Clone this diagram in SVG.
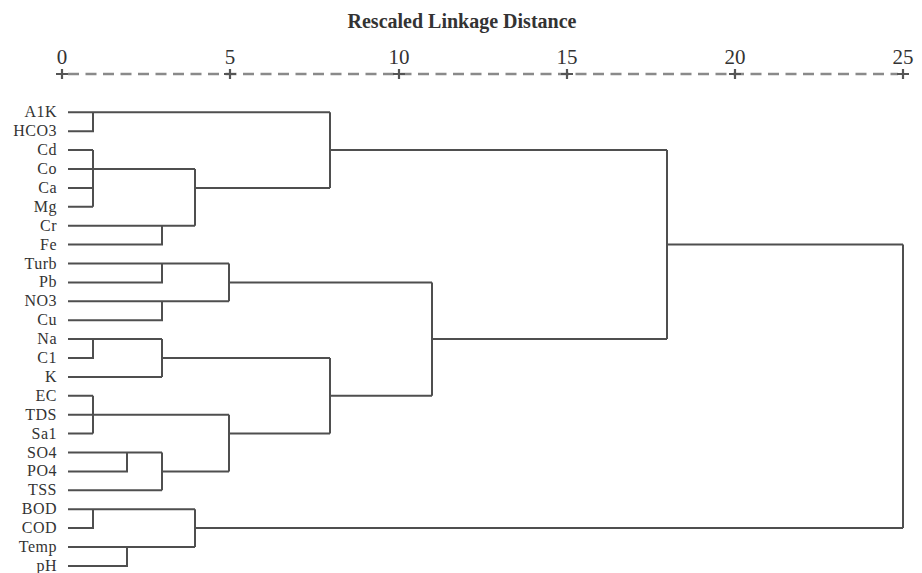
<svg xmlns="http://www.w3.org/2000/svg" width="922" height="573" viewBox="0 0 922 573">
<style>
.t{font-family:"Liberation Serif","Times New Roman",serif;fill:#333}
.title{font-size:20px;font-weight:bold;text-anchor:middle}
.num{font-size:21px;text-anchor:middle}
.lbl{font-size:16px;text-anchor:end;letter-spacing:0.5px}
.ln{fill:none;stroke:#4f4f4f;stroke-width:2}
.axis{stroke:#8a8a8a;stroke-width:2.5;stroke-dasharray:11 6.5;fill:none}
.tick{stroke:#555;stroke-width:2.2;fill:none}
</style>
<rect width="922" height="573" fill="#fff"/>
<g id="axis">
<text class="t title" x="462" y="28">Rescaled Linkage Distance</text>
<text class="t num" x="62" y="64">0</text>
<text class="t num" x="230" y="64">5</text>
<text class="t num" x="399" y="64">10</text>
<text class="t num" x="567" y="64">15</text>
<text class="t num" x="735" y="64">20</text>
<text class="t num" x="903" y="64">25</text>
<path class="axis" d="M68,74 H898"/>
<path class="tick" d="M56,74 H68 M62,69 V79 M224,74 H236 M230,69 V79 M393,74 H405 M399,69 V79 M561,74 H573 M567,69 V79 M729,74 H741 M735,69 V79 M897,74 H909 M903,69 V79"/>
</g>
<g id="n-A1K"><text class="t lbl" x="57" y="117.3">A1K</text></g>
<g id="n-HCO3"><text class="t lbl" x="57" y="136.2">HCO3</text></g>
<g id="n-Cd"><text class="t lbl" x="57" y="155.1">Cd</text></g>
<g id="n-Co"><text class="t lbl" x="57" y="174">Co</text></g>
<g id="n-Ca"><text class="t lbl" x="57" y="192.9">Ca</text></g>
<g id="n-Mg"><text class="t lbl" x="57" y="211.8">Mg</text></g>
<g id="n-Cr"><text class="t lbl" x="57" y="230.7">Cr</text></g>
<g id="n-Fe"><text class="t lbl" x="57" y="249.6">Fe</text></g>
<g id="n-Turb"><text class="t lbl" x="57" y="268.5">Turb</text></g>
<g id="n-Pb"><text class="t lbl" x="57" y="287.4">Pb</text></g>
<g id="n-NO3"><text class="t lbl" x="57" y="306.3">NO3</text></g>
<g id="n-Cu"><text class="t lbl" x="57" y="325.2">Cu</text></g>
<g id="n-Na"><text class="t lbl" x="57" y="344.1">Na</text></g>
<g id="n-C1"><text class="t lbl" x="57" y="363">C1</text></g>
<g id="n-K"><text class="t lbl" x="57" y="381.9">K</text></g>
<g id="n-EC"><text class="t lbl" x="57" y="400.8">EC</text></g>
<g id="n-TDS"><text class="t lbl" x="57" y="419.7">TDS</text></g>
<g id="n-Sa1"><text class="t lbl" x="57" y="438.6">Sa1</text></g>
<g id="n-SO4"><text class="t lbl" x="57" y="457.5">SO4</text></g>
<g id="n-PO4"><text class="t lbl" x="57" y="476.4">PO4</text></g>
<g id="n-TSS"><text class="t lbl" x="57" y="495.3">TSS</text></g>
<g id="n-BOD"><text class="t lbl" x="57" y="514.2">BOD</text></g>
<g id="n-COD"><text class="t lbl" x="57" y="533.1">COD</text></g>
<g id="n-Temp"><text class="t lbl" x="57" y="552">Temp</text></g>
<g id="n-pH"><text class="t lbl" x="57" y="570.9">pH</text></g>
<g id="connectors">
<path class="ln" d="M68,112.3 H330 M68,131.2 H93 V112.3"/>
<path class="ln" d="M68,150.1 H93 M68,187.9 H93 M68,206.8 H93 M93,150.1 V206.8 M68,169 H195"/>
<path class="ln" d="M68,225.7 H195 M68,244.6 H162 V225.7"/>
<path class="ln" d="M195,169 V225.7 M195,187.9 H330"/>
<path class="ln" d="M330,112.3 V187.9 M330,150.1 H667"/>
<path class="ln" d="M68,263.5 H229 M68,282.4 H162 V263.5"/>
<path class="ln" d="M68,301.3 H229 M68,320.2 H162 V301.3"/>
<path class="ln" d="M229,263.5 V301.3 M229,282.4 H432"/>
<path class="ln" d="M68,339.1 H162 M68,358 H93 V339.1 M68,376.9 H162 M162,339.1 V376.9 M162,358 H330"/>
<path class="ln" d="M68,395.8 H93 M68,414.7 H229 M68,433.6 H93 M93,395.8 V433.6"/>
<path class="ln" d="M68,452.5 H162 M68,471.4 H127 V452.5 M68,490.3 H162 M162,452.5 V490.3 M162,471.4 H229"/>
<path class="ln" d="M229,414.7 V471.4 M229,433.6 H330"/>
<path class="ln" d="M330,358 V433.6 M330,395.8 H432"/>
<path class="ln" d="M432,282.4 V395.8 M432,339.1 H667"/>
<path class="ln" d="M667,150.1 V339.1 M667,244.6 H903"/>
<path class="ln" d="M68,509.2 H195 M68,528.1 H93 V509.2 M68,547 H195 M68,565.9 H127 V547 M195,509.2 V547 M195,528.1 H903"/>
<path class="ln" d="M903,244.6 V528.1"/>
</g>
</svg>
